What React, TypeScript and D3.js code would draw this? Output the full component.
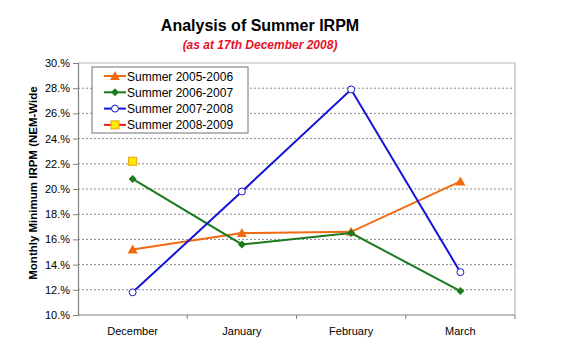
import React, { useEffect, useRef } from 'react'
import * as d3 from 'd3'

const months = ['December', 'January', 'February', 'March']
const yTicks = [10, 12, 14, 16, 18, 20, 22, 24, 26, 28, 30]

const summer0506 = [15.2, 16.5, 16.6, 20.6]
const summer0607 = [20.8, 15.6, 16.5, 11.9]
const summer0708 = [11.8, 19.8, 27.9, 13.4]
const summer0809 = [22.2]

const seriesNames = ['Summer 2005-2006', 'Summer 2006-2007', 'Summer 2007-2008', 'Summer 2008-2009']

const W = 586
const H = 358
const left = 78
const right = 515
const top = 63
const bottom = 315

export default function App() {
  const ref = useRef<SVGSVGElement>(null)

  useEffect(() => {
    const svg = d3.select(ref.current)
    svg.selectAll('*').remove()

    const series = [
      { name: seriesNames[0], values: summer0506, color: '#f26a10', marker: 'triangle' },
      { name: seriesNames[1], values: summer0607, color: '#1c7a1c', marker: 'diamond' },
      { name: seriesNames[2], values: summer0708, color: '#1414d8', marker: 'circle' },
      { name: seriesNames[3], values: summer0809, color: '#f01818', marker: 'square' },
    ]

    const x = d3.scalePoint<string>().domain(months).range([left, right]).padding(0.5)
    const xBand = d3.scaleBand<string>().domain(months).range([left, right])
    const y = d3.scaleLinear().domain([10, 30]).range([bottom, top])

    svg.append('rect').attr('width', W).attr('height', H).attr('fill', '#fff')

    // titles
    svg.append('text')
      .attr('x', 260).attr('y', 31)
      .attr('text-anchor', 'middle')
      .attr('font-family', 'Liberation Sans, Arial, sans-serif')
      .attr('font-weight', 'bold').attr('font-size', 16)
      .text('Analysis of Summer IRPM')
    svg.append('text')
      .attr('x', 260).attr('y', 49)
      .attr('text-anchor', 'middle')
      .attr('font-family', 'Liberation Sans, Arial, sans-serif')
      .attr('font-weight', 'bold').attr('font-style', 'italic').attr('font-size', 12)
      .attr('fill', '#e8102a')
      .text('(as at 17th December 2008)')

    // gridlines
    svg.append('g').selectAll('line')
      .data(yTicks.filter(t => t > 10 && t < 30))
      .enter().append('line')
      .attr('x1', left).attr('x2', right)
      .attr('y1', d => y(d)).attr('y2', d => y(d))
      .attr('stroke', '#8a8a8a').attr('stroke-width', 1)
      .attr('stroke-dasharray', '2,2')

    // plot border (top, right)
    svg.append('path')
      .attr('d', `M${left},${top}H${right}V${bottom}`)
      .attr('fill', 'none').attr('stroke', '#b8b8b8').attr('stroke-width', 1.2)

    // y axis
    const yAxis = svg.append('g').attr('transform', `translate(${left},0)`)
      .call(d3.axisLeft(y).tickValues(yTicks).tickSize(5).tickFormat(d => `${d}.%`))
    yAxis.select('.domain').attr('stroke', '#808080').attr('stroke-width', 1.2)
    yAxis.selectAll('.tick line').attr('stroke', '#808080')
    yAxis.selectAll('text')
      .attr('font-family', 'Liberation Sans, Arial, sans-serif')
      .attr('font-size', 11).attr('fill', '#000').attr('x', -8)

    // x axis
    const xAxis = svg.append('g').attr('transform', `translate(0,${bottom})`)
    xAxis.append('line').attr('x1', left).attr('x2', right)
      .attr('stroke', '#808080').attr('stroke-width', 1.2)
    xAxis.selectAll('.xt').data(months.slice(1).concat(['end']))
      .enter().append('line')
      .attr('x1', d => d === 'end' ? right : xBand(d)!)
      .attr('x2', d => d === 'end' ? right : xBand(d)!)
      .attr('y1', 0).attr('y2', 4)
      .attr('stroke', '#808080')
    xAxis.selectAll('.xl').data(months).enter().append('text')
      .attr('x', d => x(d)!).attr('y', 20)
      .attr('text-anchor', 'middle')
      .attr('font-family', 'Liberation Sans, Arial, sans-serif')
      .attr('font-size', 11)
      .text(d => d)

    // y title
    svg.append('text')
      .attr('transform', `translate(37,${(top + bottom) / 2 - 6}) rotate(-90)`)
      .attr('text-anchor', 'middle')
      .attr('font-family', 'Liberation Sans, Arial, sans-serif')
      .attr('font-weight', 'bold').attr('font-size', 11.5)
      .text('Monthly Minimum IRPM (NEM-Wide')

    const drawMarker = (g: any, kind: string, color: string, cx: number, cy: number) => {
      if (kind === 'triangle') {
        g.append('path').attr('d', `M${cx},${cy - 5}L${cx + 5},${cy + 4}L${cx - 5},${cy + 4}Z`)
          .attr('fill', color)
      } else if (kind === 'diamond') {
        g.append('path').attr('d', `M${cx},${cy - 4}L${cx + 4},${cy}L${cx},${cy + 4}L${cx - 4},${cy}Z`)
          .attr('fill', color)
      } else if (kind === 'circle') {
        g.append('circle').attr('cx', cx).attr('cy', cy).attr('r', 3.5)
          .attr('fill', '#fff').attr('stroke', color).attr('stroke-width', 1)
      } else {
        g.append('rect').attr('x', cx - 4).attr('y', cy - 4).attr('width', 8).attr('height', 8)
          .attr('fill', '#ffee00').attr('stroke', '#f0a000').attr('stroke-width', 1)
      }
    }

    const line = d3.line<number>().x((_, i) => x(months[i])!).y(d => y(d))
    series.forEach(s => {
      const g = svg.append('g')
      if (s.values.length > 1) {
        g.append('path').attr('d', line(s.values))
          .attr('fill', 'none').attr('stroke', s.color).attr('stroke-width', 2)
      }
      s.values.forEach((v, i) => drawMarker(g, s.marker, s.color, x(months[i])!, y(v)))
    })

    // legend
    const lg = svg.append('g')
    lg.append('rect').attr('x', 92).attr('y', 67).attr('width', 156).attr('height', 66)
      .attr('fill', '#fff').attr('stroke', '#707070').attr('stroke-width', 1)
    series.forEach((s, i) => {
      const cy = 76 + i * 16.3
      lg.append('line').attr('x1', 104).attr('x2', 126).attr('y1', cy).attr('y2', cy)
        .attr('stroke', s.color).attr('stroke-width', 2)
      drawMarker(lg, s.marker, s.color, 115, cy)
      lg.append('text').attr('x', 127).attr('y', cy + 4.5)
        .attr('font-family', 'Liberation Sans, Arial, sans-serif')
        .attr('font-size', 12)
        .text(s.name)
    })
  }, [])

  return (
    <svg ref={ref} width={W} height={H}
      style={{ position: 'absolute', left: 0, top: 0, display: 'block' }} />
  )
}
